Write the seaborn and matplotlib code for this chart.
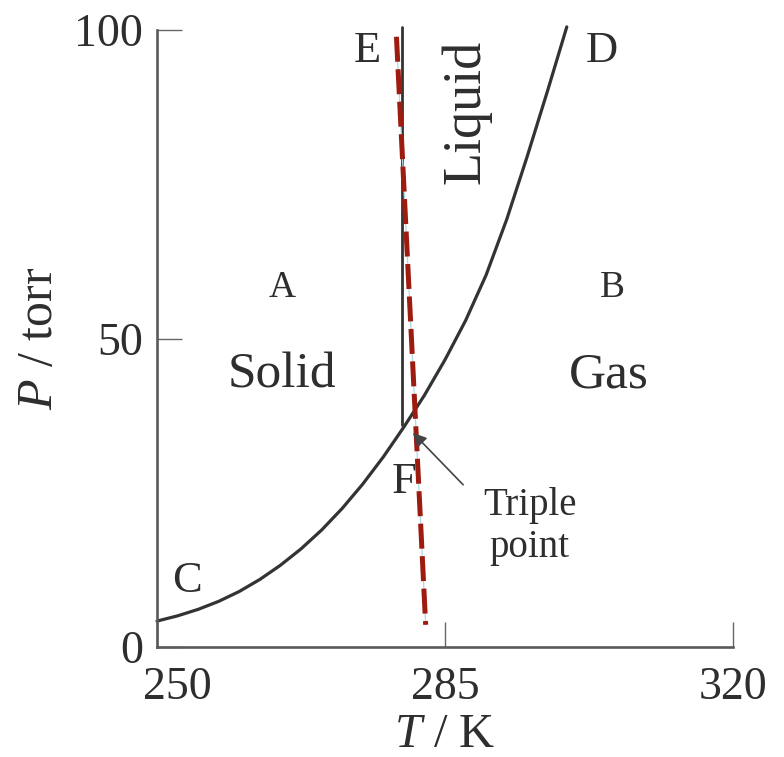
import matplotlib
matplotlib.use("Agg")
import matplotlib.pyplot as plt
import matplotlib.transforms as mtransforms
import seaborn as sns
import pandas as pd

# ---- data ----
curve_T = [250.0, 252.5, 255.0, 257.5, 260.0, 262.5, 265.0, 267.5, 270.0, 272.5,
           275.0, 277.5, 280.0, 282.5, 285.0, 287.5, 290.0, 292.5, 295.0, 297.5, 299.8]
curve_P = [4.2, 5.05, 6.1, 7.4, 9.0, 10.95, 13.25, 15.9, 18.95, 22.45,
           26.4, 30.8, 35.65, 40.8, 46.55, 52.9, 60.3, 69.3, 79.55, 90.3, 100.5]

fusion_T = [279.8, 279.8]
fusion_P = [36.0, 100.5]

dashed_T = [279.1, 282.65]
dashed_P = [98.9, 3.6]

x_ticks = [250, 285, 320]
y_ticks = [0, 50, 100]

region_letters = ["A", "B"]
region_letter_T = [265.2, 305.3]
region_letter_P = [56.8, 56.8]

phase_names = ["Solid", "Gas"]
phase_T = [265.2, 304.9]
phase_P = [42.0, 42.0]

point_letters = ["E", "D", "C", "F"]
point_T = [275.5, 304.0, 253.7, 280.0]
point_P = [94.8, 94.8, 8.9, 25.0]

triple_tip = (281.1, 34.7)
triple_tail = (287.2, 26.3)

# ---- style ----
sns.set_theme(style="white")
plt.rcParams["font.family"] = ["Liberation Serif", "DejaVu Serif"]
plt.rcParams["mathtext.fontset"] = "custom"
plt.rcParams["mathtext.it"] = "Liberation Serif:italic"
plt.rcParams["mathtext.rm"] = "Liberation Serif"

txt = "#2e2e2e"
fig = plt.figure(figsize=(7.84, 7.57), dpi=100)
ax = fig.add_axes([157 / 784, 1 - 647 / 757, (733 - 157) / 784, (647 - 30) / 757])

df_curve = pd.DataFrame({"T": curve_T, "P": curve_P})
sns.lineplot(data=df_curve, x="T", y="P", ax=ax, color="#333333", lw=2.3,
             estimator=None, sort=False, clip_on=False,
             solid_joinstyle="round", solid_capstyle="round")

df_fus = pd.DataFrame({"T": fusion_T, "P": fusion_P})
sns.lineplot(data=df_fus, x="T", y="P", ax=ax, color="#333333", lw=2.0,
             estimator=None, sort=False, clip_on=False)

df_dash = pd.DataFrame({"T": dashed_T, "P": dashed_P})
sns.lineplot(data=df_dash, x="T", y="P", ax=ax, color="#add8e6", lw=0.9,
             estimator=None, sort=False)
sns.lineplot(data=df_dash, x="T", y="P", ax=ax, color="#9e1b10", lw=3.6,
             estimator=None, sort=False, linestyle=(0, (5.0, 1.5)))

ax.set_xlim(250, 320)
ax.set_ylim(0, 100)
ax.set_xticks(x_ticks)
ax.set_yticks(y_ticks)
ax.set_xticklabels([str(v) for v in x_ticks])
ax.set_yticklabels([str(v) for v in y_ticks])

for s in ["top", "right"]:
    ax.spines[s].set_visible(False)
for s in ["left", "bottom"]:
    ax.spines[s].set_color("#5a5a5a")
    ax.spines[s].set_linewidth(1.9)

ax.tick_params(axis="both", direction="in", length=18, width=1.0, color="#666666",
               labelsize=33, labelcolor=txt, bottom=True, left=True)
ax.tick_params(axis="x", pad=14)
ax.tick_params(axis="y", pad=10)

# first x label sits to the right of the corner, as in the reference
first = ax.get_xticklabels()[0]
first.set_transform(first.get_transform() +
                    mtransforms.ScaledTranslation(20 / 100, 0, fig.dpi_scale_trans))

ax.set_xlabel(r"$T$ / K", fontsize=35, color=txt, labelpad=3)
ax.set_ylabel(r"$P$ / torr", fontsize=36, color=txt, labelpad=8)

for s, t, p in zip(region_letters, region_letter_T, region_letter_P):
    ax.text(t, p, s, fontsize=27, color=txt, ha="center", va="baseline")
for s, t, p in zip(phase_names, phase_T, phase_P):
    ax.text(t, p, s, fontsize=37, color=txt, ha="center", va="baseline")
for s, t, p in zip(point_letters, point_T, point_P):
    ax.text(t, p, s, fontsize=32, color=txt, ha="center", va="baseline")

ax.text(289.2, 86.7, "Liquid", fontsize=39, color=txt, rotation=90,
        rotation_mode="anchor", ha="center", va="baseline")

ax.annotate("", xy=triple_tip, xytext=triple_tail,
            arrowprops=dict(arrowstyle="-|>", color="#444444", lw=1.2,
                            mutation_scale=20, shrinkA=0, shrinkB=0))
ax.text(295.3, 21.4, "Triple", fontsize=28, color=txt, ha="center", va="baseline")
ax.text(295.2, 14.6, "point", fontsize=28, color=txt, ha="center", va="baseline")

fig.savefig("out.png", dpi=100)
